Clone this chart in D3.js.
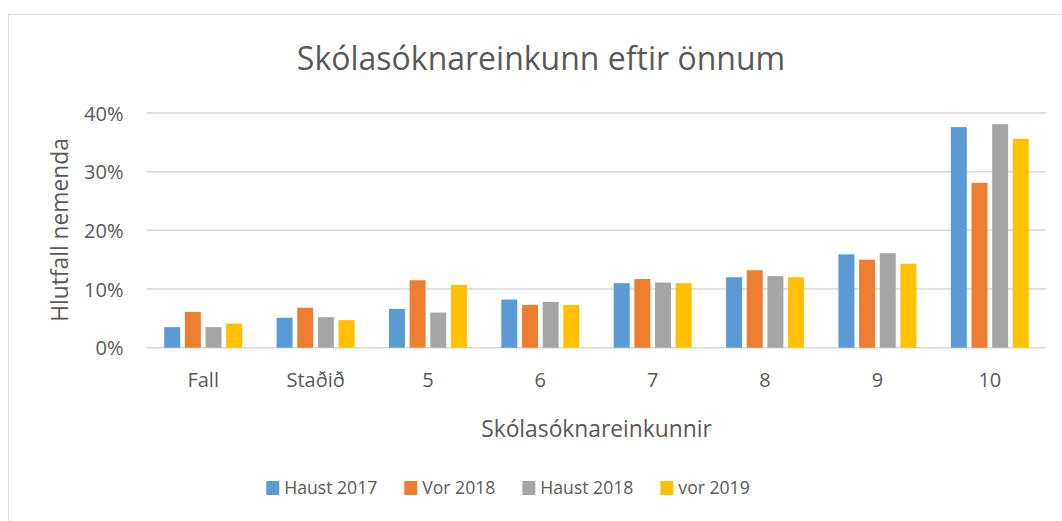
<!DOCTYPE html>
<html>
<head>
<meta charset="utf-8">
<script src="https://cdn.jsdelivr.net/npm/d3@7"></script>
<style>
  html, body { margin: 0; padding: 0; background: #fff; }
  svg { display: block; font-family: "Open Sans", "Noto Sans", sans-serif; }
</style>
</head>
<body>
<svg id="chart" width="1062" height="521"></svg>
<script>
const categories = ["Fall", "Staðið", "5", "6", "7", "8", "9", "10"];
const seriesNames = ["Haust 2017", "Vor 2018", "Haust 2018", "vor 2019"];
const haust2017 = [0.035, 0.051, 0.066, 0.082, 0.110, 0.120, 0.159, 0.376];
const vor2018   = [0.061, 0.068, 0.115, 0.073, 0.117, 0.132, 0.150, 0.281];
const haust2018 = [0.035, 0.052, 0.060, 0.078, 0.111, 0.122, 0.161, 0.381];
const vor2019   = [0.041, 0.047, 0.107, 0.073, 0.110, 0.120, 0.143, 0.356];
const yTicks = [0, 0.1, 0.2, 0.3, 0.4];
const colors = ["#5B9BD5", "#ED7D31", "#A5A5A5", "#FFC000"];

const seriesValues = [haust2017, vor2018, haust2018, vor2019];
const textColor = "#595959";
const svg = d3.select("#chart");

// outer chart border
svg.append("rect").attr("x", 8.5).attr("y", 14.5).attr("width", 1100).attr("height", 600)
  .attr("fill", "#fff").attr("stroke", "#d9d9d9").attr("stroke-width", 1);

const plot = { left: 147, right: 1046, top: 113, bottom: 347.7 };

const y = d3.scaleLinear().domain([0, 0.4]).range([plot.bottom, plot.top]);
const x0 = d3.scaleBand().domain(categories).range([plot.left, plot.right]).paddingInner(0.306).paddingOuter(0.153);
const x1 = d3.scaleBand().domain(seriesNames).range([0, x0.bandwidth()]).paddingInner(0.226).paddingOuter(0);

// gridlines
svg.append("g").selectAll("line").data(yTicks).join("line")
  .attr("x1", plot.left).attr("x2", plot.right)
  .attr("y1", d => y(d)).attr("y2", d => y(d))
  .attr("stroke", "#d9d9d9").attr("stroke-width", 1.5);

// y axis labels
const yAxis = d3.axisLeft(y).tickValues(yTicks).tickFormat(d3.format(".0%")).tickSize(0).tickPadding(0);
const gy = svg.append("g").attr("transform", `translate(123.5,0)`).call(yAxis);
gy.select(".domain").remove();
gy.selectAll("text").attr("fill", textColor).attr("font-size", "20px")
  .attr("font-family", "Open Sans, sans-serif").attr("dy", "0.35em");

// bars
const groups = svg.append("g").selectAll("g").data(categories).join("g")
  .attr("transform", d => `translate(${x0(d)},0)`);
groups.selectAll("rect").data((c, i) => seriesNames.map((s, j) => ({ s, j, v: seriesValues[j][i] })))
  .join("rect")
  .attr("x", d => x1(d.s)).attr("width", x1.bandwidth())
  .attr("y", d => y(d.v)).attr("height", d => y(0) - y(d.v))
  .attr("fill", d => colors[d.j]);

// x axis labels
const xAxis = d3.axisBottom(x0).tickSize(0).tickPadding(0);
const gx = svg.append("g").attr("transform", `translate(0,${plot.bottom})`).call(xAxis);
gx.select(".domain").remove();
gx.selectAll("text").attr("fill", textColor).attr("font-size", "20px")
  .attr("font-family", "Open Sans, sans-serif").attr("dy", null).attr("y", 39);

// title
svg.append("text").attr("x", 541).attr("y", 70).attr("text-anchor", "middle")
  .attr("fill", textColor).attr("font-size", "32px").text("Skólasóknareinkunn eftir önnum");

// axis titles
svg.append("text").attr("x", (plot.left + plot.right) / 2).attr("y", 437).attr("text-anchor", "middle")
  .attr("fill", textColor).attr("font-size", "22.8px").text("Skólasóknareinkunnir");
svg.append("text").attr("transform", "translate(68,230) rotate(-90)").attr("text-anchor", "middle")
  .attr("fill", textColor).attr("font-size", "22.8px").text("Hlutfall nemenda");

// legend
const legend = svg.append("g");
let lx = 0;
const items = [];
seriesNames.forEach((s, j) => {
  const g = legend.append("g");
  g.append("rect").attr("x", 0).attr("y", -7).attr("width", 13).attr("height", 14).attr("fill", colors[j]);
  const t = g.append("text").attr("x", 18).attr("y", 0).attr("dy", "0.35em")
    .attr("fill", textColor).attr("font-size", "17.6px").text(s);
  const w = 18 + t.node().getComputedTextLength();
  g.attr("transform", `translate(${lx},0)`);
  lx += w + 27;
});
const totalW = lx - 27;
legend.attr("transform", `translate(${508 - totalW / 2},488)`);
</script>
</body>
</html>
